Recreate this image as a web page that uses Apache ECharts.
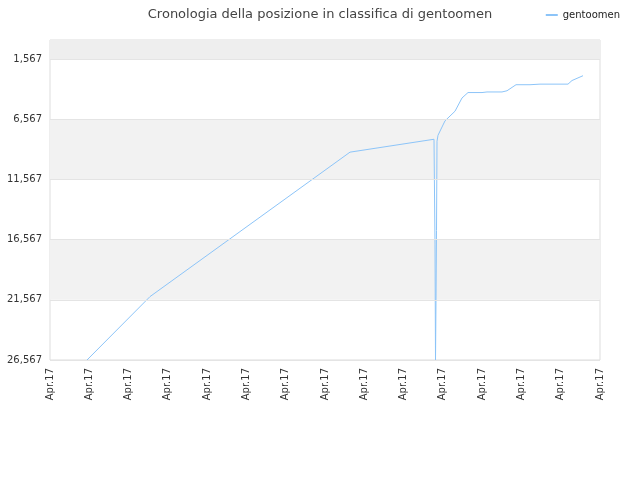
<!DOCTYPE html><html><head><meta charset="utf-8">
<script src="https://cdn.jsdelivr.net/npm/echarts@6/dist/echarts.min.js"></script>
<style>html,body{margin:0}#c{width:640px;height:480px}</style></head><body><div id="c"></div>
<script>
const xPos = [37,100,200,300,384,385,385.5,386,386.5,387,388,395,405,412,418,432,437,452,457,466,480,490,495,518,522,533];
const ranks = [26567,21300,15300,9300,8230,17000,26567,21500,15800,8400,7900,6700,5900,4800,4350,4350,4300,4300,4200,3700,3700,3650,3650,3650,3350,2950];
const yTicks = [1567,6567,11567,16567,21567,26567];
const xLabel = 'Apr.17';
const chart = echarts.init(document.getElementById('c'));
chart.setOption({
  animation:false,
  title:{text:'Cronologia della posizione in classifica di gentoomen',left:'center',top:3,textStyle:{fontSize:13,fontWeight:'normal',color:'#444',fontFamily:'DejaVu Sans'}},
  legend:{right:15,top:5,itemWidth:12,itemHeight:2,icon:'rect',textStyle:{fontSize:10,color:'#222',fontFamily:'DejaVu Sans'},data:['gentoomen']},
  grid:{left:50,right:40,top:40,bottom:120,show:true,borderColor:'#ddd',borderWidth:1},
  xAxis:{type:'value',min:0,max:550,interval:550/14,axisLine:{show:false},axisTick:{show:false},splitLine:{show:false},
    axisLabel:{rotate:90,fontSize:10,color:'#333',formatter:()=>xLabel,fontFamily:'DejaVu Sans',showMaxLabel:true,showMinLabel:true}},
  yAxis:{type:'value',inverse:true,min:-16,max:26567,axisLine:{show:false},axisTick:{show:false},
    splitLine:{show:false},
    axisLabel:{customValues:yTicks,fontSize:10,color:'#333',fontFamily:'DejaVu Sans'}},
  series:[{name:'gentoomen',type:'line',symbol:'none',lineStyle:{width:1,color:'#8cc4f8'},itemStyle:{color:'#8cc4f8'},
    data:xPos.map((x,i)=>[x,ranks[i]]),
    markArea:{silent:true,itemStyle:{color:'#f2f2f2'},data:[
      [{yAxis:-16,itemStyle:{color:'#eeeeee'}},{yAxis:1567}],
      [{yAxis:6567},{yAxis:11567}],
      [{yAxis:16567},{yAxis:21567}]]},
    markLine:{silent:true,symbol:'none',label:{show:false},lineStyle:{color:'#e4e4e4',width:1,type:'solid'},
      data:yTicks.map(v=>({yAxis:v}))}
  }]
});
</script></body></html>
